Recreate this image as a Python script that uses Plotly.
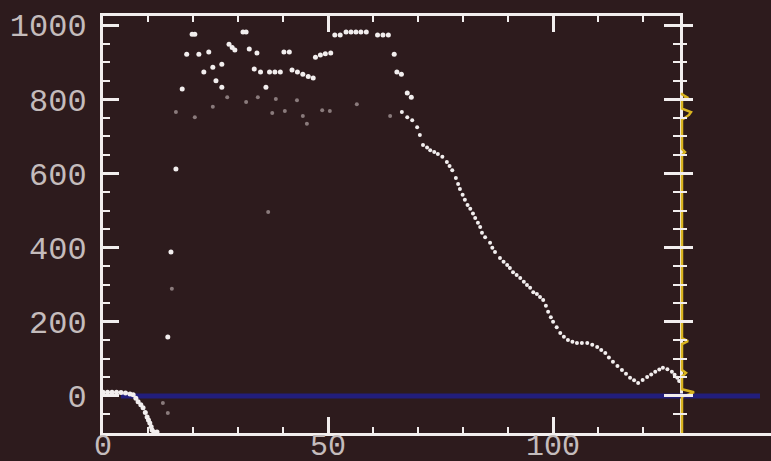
import plotly.graph_objects as go

# ---- data -------------------------------------------------------------
# bright points: scatter cloud, main descending trace and the near-origin arc
cloud_x = [16.2, 15.1, 14.4, 17.6, 18.6, 19.8, 20.4, 21.3, 22.4, 23.5, 24.4, 25.1,
           26.4, 26.4, 28.0, 28.7, 29.3, 31.1, 31.8, 32.5, 33.6, 34.2, 35.0, 36.2,
           37.0, 38.2, 39.4, 40.2, 41.4, 42.0, 43.2, 44.4, 45.6, 46.7, 47.2, 48.3,
           49.4, 50.6, 51.5, 52.7, 54.0, 55.1, 56.2, 57.3, 58.5, 61.0, 62.2, 63.4,
           64.7, 65.3, 66.3, 67.6, 68.5]
cloud_y = [612, 388, 159, 828, 922, 976, 976, 922, 874, 928, 887, 850,
           895, 833, 949, 940, 933, 982, 982, 936, 882, 925, 874, 833,
           874, 874, 874, 928, 928, 879, 874, 868, 862, 858, 914, 920,
           923, 925, 974, 974, 982, 982, 982, 982, 982, 974, 974, 974,
           922, 874, 868, 817, 806]

trace_x = [66.4, 67.6, 68.7, 69.8, 70.4, 71.1, 72.0, 72.7, 73.6, 74.4, 75.4, 76.4,
           77.0, 77.6, 78.4, 78.9, 79.3, 79.9, 80.4, 81.0, 81.6, 82.2, 82.7, 83.3,
           83.8, 84.2, 84.9, 86.0, 86.5, 87.1, 88.2, 89.0, 89.8, 90.4, 91.1, 91.9,
           92.7, 93.5, 94.2, 94.9, 95.6, 96.4, 97.1, 97.8, 98.4, 98.9, 99.5, 100.0,
           100.8, 101.6, 102.4, 103.3, 104.3, 105.3, 106.4, 107.6, 108.7, 109.8,
           110.7, 111.6, 112.4, 113.3, 114.3, 115.3, 116.2, 117.1, 118.0, 118.9,
           119.9, 120.9, 121.8, 122.7, 123.6, 124.4, 125.4, 126.4, 127.0, 127.6, 128.0]
trace_y = [766, 752, 744, 725, 704, 677, 670, 663, 658, 653, 645, 631,
           620, 609, 588, 572, 558, 543, 529, 515, 505, 492, 480, 467,
           456, 440, 428, 413, 400, 388, 372, 362, 353, 345, 334, 326,
           318, 308, 299, 292, 280, 275, 267, 259, 243, 227, 212, 200,
           185, 170, 160, 151, 146, 143, 143, 143, 138, 132,
           124, 116, 104, 92, 81, 70, 60, 49, 42, 35,
           43, 51, 58, 65, 71, 76, 72, 65, 57, 49, 40]

arc_x = [0, 1, 2, 3, 4, 5, 6, 6.7, 7.3, 7.8, 8.4, 8.9, 9.4, 9.8, 10.1, 10.4,
         10.7, 10.9, 11.3, 12.0]
arc_y = [10, 10, 10, 10, 9, 8, 5, 3, -6, -16, -24, -32, -45, -57, -65, -73,
         -83, -92, -97, -97]

# dim points
dim_x = [16.2, 20.4, 24.4, 27.6, 31.8, 34.4, 37.6, 38.4, 40.4, 43.1, 44.4, 45.3,
         48.7, 50.4, 56.4, 63.8, 36.7, 15.3, 13.3, 14.4]
dim_y = [766, 752, 780, 806, 793, 806, 763, 801, 769, 798, 755, 734,
         771, 769, 787, 755, 496, 289, -19, -46]

# zero reference
base_x = [4, 128.2]
base_y = [0, 0]
side_base_x = [0, 80]

# side profile (right strip)
side_y = [-100, -2, 4, 10, 18, 52, 62, 70, 140, 148, 156, 650, 658, 666,
          745, 758, 766, 775, 798, 806, 814, 818]
side_x = [2, 2, 9, 14, 2, 2, 6, 2, 2, 8, 2, 2, 5, 2,
          2, 9, 11, 2, 2, 7, 2, 2]

x_ticks = [0, 50, 100]
y_ticks = [0, 200, 400, 600, 800, 1000]

# ---- styling ----------------------------------------------------------
BG = "#2d1b1d"
WHITE = "#f2eeee"
LABEL = "#c4bcbc"
DIM = "#8a7b7c"
BLUE = "#221e7c"
YELLOW = "#d9b420"
FONT = dict(family="Liberation Mono", size=32, color=LABEL)
XFONT = dict(family="Liberation Mono", size=30, color=LABEL)

W, H = 771, 461
X_MAIN = [103 / W, 680 / W]
X_SIDE = [680 / W, 1.0]
Y_DOM = [(H - 433) / H, (H - 16) / H]
X_RANGE = [0, 128.2]
Y_RANGE = [-100, 1025]

fig = go.Figure()

fig.add_trace(go.Scatter(x=base_x, y=base_y, mode="lines",
                         line=dict(color=BLUE, width=5), xaxis="x", yaxis="y",
                         hoverinfo="skip"))
fig.add_trace(go.Scatter(x=side_base_x, y=base_y, mode="lines",
                         line=dict(color=BLUE, width=5), xaxis="x2", yaxis="y2",
                         hoverinfo="skip"))
fig.add_trace(go.Scatter(x=dim_x, y=dim_y, mode="markers",
                         marker=dict(color=DIM, size=4), xaxis="x", yaxis="y"))
fig.add_trace(go.Scatter(x=cloud_x, y=cloud_y, mode="markers",
                         marker=dict(color=WHITE, size=5), xaxis="x", yaxis="y"))
fig.add_trace(go.Scatter(x=trace_x, y=trace_y, mode="markers",
                         marker=dict(color=WHITE, size=4), xaxis="x", yaxis="y"))
fig.add_trace(go.Scatter(x=arc_x, y=arc_y, mode="markers",
                         marker=dict(color=WHITE, size=5), xaxis="x", yaxis="y"))
fig.add_trace(go.Scatter(x=side_x, y=side_y, mode="lines",
                         line=dict(color=YELLOW, width=2.5), xaxis="x2", yaxis="y2"))

major = dict(ticks="inside", ticklen=16, tickwidth=3, tickcolor=WHITE)
common = dict(showgrid=False, zeroline=False, automargin=False)

fig.update_layout(
    width=W, height=H,
    margin=dict(l=0, r=0, t=0, b=0, autoexpand=False),
    paper_bgcolor=BG, plot_bgcolor=BG,
    showlegend=False,
    font=FONT,
    xaxis=dict(domain=X_MAIN, range=X_RANGE, anchor="y", side="bottom",
               showline=True, linecolor=WHITE, linewidth=3, mirror="allticks",
               tickmode="array", tickvals=x_ticks,
               ticktext=[str(v) for v in x_ticks],
               tickfont=XFONT, ticklabelstandoff=-17,
               minor=dict(dtick=10, tick0=0, ticks="inside", ticklen=6,
                          tickwidth=2, tickcolor=WHITE),
               **major, **common),
    xaxis3=dict(overlaying="x", range=X_RANGE, anchor="y", side="top",
                showline=False, ticks="",
                tickmode="array", tickvals=x_ticks,
                ticktext=[str(v) for v in x_ticks],
                tickfont=XFONT, ticklabelstandoff=-17, **common),
    yaxis=dict(domain=Y_DOM, range=Y_RANGE, anchor="x",
               showline=True, linecolor=WHITE, linewidth=3, mirror="allticks",
               tickmode="array", tickvals=y_ticks,
               ticktext=[str(v) for v in y_ticks],
               tickfont=FONT, ticklabelstandoff=7,
               minor=dict(dtick=50, tick0=0, ticks="inside", ticklen=7,
                          tickwidth=2, tickcolor=WHITE),
               **major, **common),
    xaxis2=dict(domain=X_SIDE, range=[0, 91], anchor="y2", side="bottom",
                showticklabels=False,
                showline=True, linecolor=WHITE, linewidth=3, ticks="", **common),
    xaxis4=dict(overlaying="x2", range=[0, 91], anchor="y2", side="top",
                showticklabels=False,
                showline=True, linecolor=YELLOW, linewidth=3, ticks="", **common),
    yaxis2=dict(domain=Y_DOM, range=Y_RANGE, anchor="x2", side="left",
                showline=False,
                showticklabels=False, tickmode="array", tickvals=y_ticks,
                minor=dict(dtick=50, tick0=0, ticks="inside", ticklen=7,
                           tickwidth=2, tickcolor=WHITE),
                ticks="inside", ticklen=13, tickwidth=3, tickcolor=WHITE, **common),
    yaxis3=dict(overlaying="y2", range=Y_RANGE, anchor="x2", side="right",
                showline=False,
                showticklabels=False, tickmode="array", tickvals=y_ticks,
                minor=dict(dtick=50, tick0=0, ticks="inside", ticklen=5,
                           tickwidth=2, tickcolor=WHITE),
                ticks="inside", ticklen=10, tickwidth=3, tickcolor=WHITE, **common),
)

fig.write_html("out.html")
